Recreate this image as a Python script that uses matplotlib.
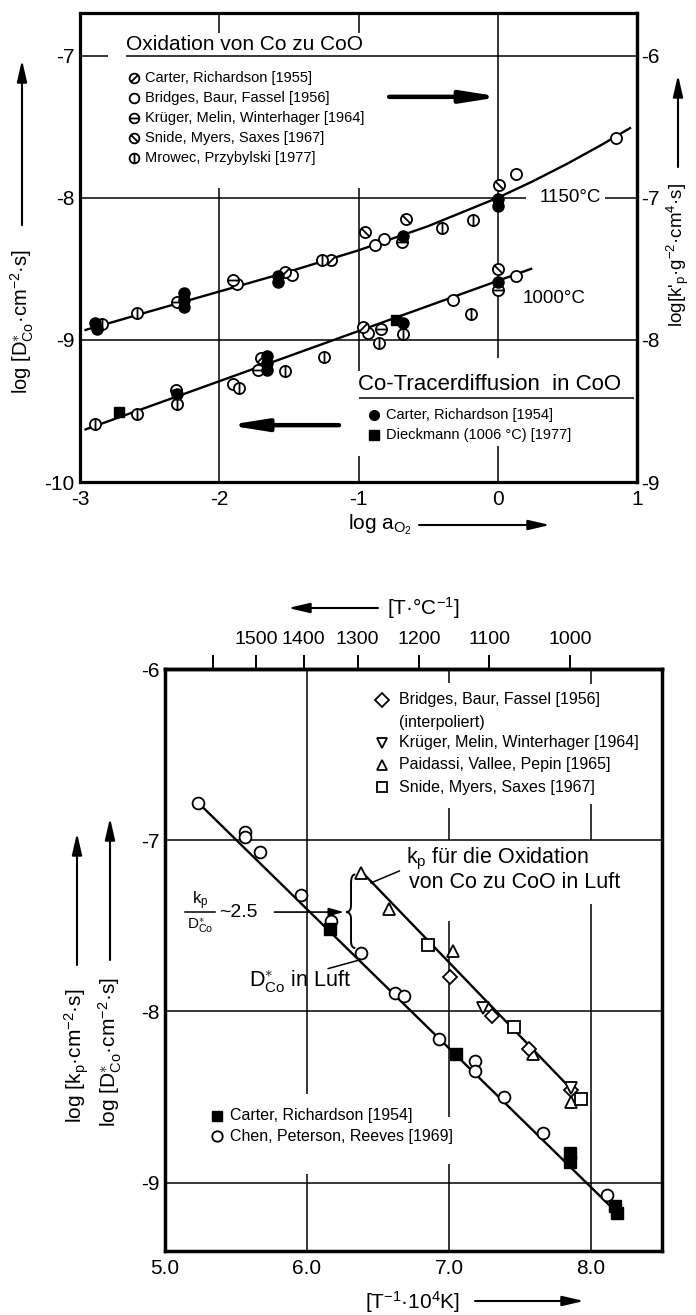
import numpy as np
import matplotlib
matplotlib.use('Agg')
import matplotlib.pyplot as plt
from matplotlib.path import Path
from matplotlib.patches import PathPatch, FancyArrowPatch

plt.rcParams['font.family'] = ['Liberation Sans', 'DejaVu Sans']
plt.rcParams['mathtext.fontset'] = 'custom'
plt.rcParams['mathtext.rm'] = 'Liberation Sans'
plt.rcParams['mathtext.it'] = 'Liberation Sans'
plt.rcParams['mathtext.bf'] = 'Liberation Sans'
plt.rcParams['axes.unicode_minus'] = False

# ---- upper plot: log D / log k'p vs log a_O2 (1150 C and 1000 C) ----
bridges_x = [0.85, 0.13, -0.82, -0.88, -1.48, -1.87, 0.13, -0.32, -0.93, -1.90]
bridges_y = [-7.58, -7.83, -8.29, -8.33, -8.54, -8.61, -8.55, -8.72, -8.95, -9.31]
carter55_x = [-1.53, -1.20, -0.97, -1.70]
carter55_y = [-8.52, -8.44, -8.91, -9.13]
snide_x = [0.01, -0.66, -0.95, 0.0]
snide_y = [-7.91, -8.15, -8.24, -8.50]
krueger_x = [-0.69, -2.30, -1.90, 0.0, -0.84, -1.72, -2.31]
krueger_y = [-8.31, -8.73, -8.58, -8.65, -8.92, -9.21, -9.35]
mrowec_x = [-0.18, -0.40, -1.26, -2.59, -2.84, -0.19, -0.68, -0.85, -1.25, -1.53, -1.86, -2.30, -2.59, -2.89]
mrowec_y = [-8.16, -8.21, -8.44, -8.81, -8.89, -8.82, -8.96, -9.02, -9.12, -9.22, -9.34, -9.45, -9.52, -9.59]
carter54_tr_x = [0.0, 0.0, -0.68, -1.58, -1.58, -2.25, -2.25, -2.25, -2.89, -2.88, 0.0, -0.68, -1.66, -1.66, -1.66, -2.30]
carter54_tr_y = [-8.01, -8.06, -8.27, -8.55, -8.59, -8.67, -8.72, -8.77, -8.88, -8.92, -8.59, -8.88, -9.11, -9.16, -9.21, -9.38]
dieckmann_x = [-0.73, -2.72]
dieckmann_y = [-8.86, -9.51]

fit1150_x = [-2.96, -2.5, -2.0, -1.5, -1.0, -0.5, 0.0, 0.25, 0.5, 0.75, 0.95]
fit1150_y = [-8.93, -8.80, -8.66, -8.52, -8.37, -8.20, -8.00, -7.885, -7.76, -7.625, -7.51]
fit1000_x = [-2.96, 0.24]
fit1000_y = [-9.63, -8.50]

# ---- lower plot: Arrhenius plot of kp and D* in air ----
chen_x = [5.235, 5.56, 5.56, 5.67, 5.96, 6.17, 6.38, 6.62, 6.68, 6.93, 7.18, 7.18, 7.39, 7.66, 8.11]
chen_y = [-6.78, -6.95, -6.98, -7.07, -7.32, -7.47, -7.66, -7.89, -7.91, -8.16, -8.29, -8.35, -8.50, -8.71, -9.07]
carter54_x = [6.16, 7.05, 7.85, 7.85, 8.17, 8.18]
carter54_y = [-7.52, -8.25, -8.83, -8.88, -9.14, -9.18]
paidassi_x = [6.38, 6.58, 7.03, 7.59, 7.86]
paidassi_y = [-7.19, -7.40, -7.65, -8.25, -8.53]
snide_kp_x = [6.85, 7.46, 7.93]
snide_kp_y = [-7.61, -8.09, -8.51]
bridges_kp_x = [7.01, 7.30, 7.56, 7.86]
bridges_kp_y = [-7.80, -8.03, -8.22, -8.46]
krueger_kp_x = [7.24, 7.86]
krueger_kp_y = [-7.98, -8.45]

fitD_x = [5.22, 8.20]
fitD_y = [-6.77, -9.19]
fitkp_x = [6.38, 7.96]
fitkp_y = [-7.18, -8.54]

temp_ticks = [1600, 1500, 1400, 1300, 1200, 1100, 1000]
temp_labels = ['', '1500', '1400', '1300', '1200', '1100', '1000']

W, H = 696, 1315
fig = plt.figure(figsize=(W / 100, H / 100), dpi=100)


def px_axes(l, t, r, b):
    return fig.add_axes([l / W, 1 - b / H, (r - l) / W, (b - t) / H])


def slashed(dx, dy):
    # open circle with a stroke through it
    circ = Path.unit_circle()
    bar = Path([(-dx, -dy), (dx, dy)], [Path.MOVETO, Path.LINETO])
    return Path.make_compound_path(circ, bar)


m_carter55 = slashed(0.75, 0.75)
m_snide = slashed(0.75, -0.75)
m_krueger = slashed(1.0, 0.0)
m_mrowec = slashed(0.0, 1.0)

open_kw = dict(ls='none', mfc='white', mec='black', mew=1.3, zorder=5)


def fig_arrow(x0, y0, x1, y1, lw=1.5, hl=1.3, hw=0.3):
    fig.add_artist(FancyArrowPatch(
        (x0 / W, 1 - y0 / H), (x1 / W, 1 - y1 / H), transform=fig.transFigure,
        arrowstyle='-|>,head_length=%g,head_width=%g' % (hl, hw),
        mutation_scale=10, lw=lw, color='black', shrinkA=0, shrinkB=0))


def seg(ax, xs, ys):
    ax.plot(xs, ys, color='black', lw=1.1, zorder=1, solid_capstyle='butt')


# ================= upper panel =================
ax1 = px_axes(80, 13, 637, 482)
ax1.set_xlim(-3, 1)
ax1.set_ylim(-10, -6.7)

seg(ax1, [-3, -2.8], [-7, -7])
seg(ax1, [-2.67, 1], [-7, -7])
seg(ax1, [-3, 0.2], [-8, -8])
seg(ax1, [0.77, 1], [-8, -8])
seg(ax1, [-3, 1], [-9, -9])
seg(ax1, [-2, -2], [-6.7, -6.84])
seg(ax1, [-2, -2], [-7.93, -10])
seg(ax1, [-1, -1], [-6.7, -6.84])
seg(ax1, [-1, -1], [-7.93, -9.22])
seg(ax1, [-1, -1], [-9.82, -10])
seg(ax1, [0, 0], [-6.7, -9.13])
seg(ax1, [0, 0], [-9.75, -10])

ax1.plot(fit1150_x, fit1150_y, color='black', lw=1.7, zorder=2)
ax1.plot(fit1000_x, fit1000_y, color='black', lw=1.7, zorder=2)

ax1.plot(bridges_x, bridges_y, marker='o', ms=8, **open_kw)
ax1.plot(carter55_x, carter55_y, marker=m_carter55, ms=8, **open_kw)
ax1.plot(snide_x, snide_y, marker=m_snide, ms=8, **open_kw)
ax1.plot(krueger_x, krueger_y, marker=m_krueger, ms=8, **open_kw)
ax1.plot(mrowec_x, mrowec_y, marker=m_mrowec, ms=8, **open_kw)
ax1.plot(carter54_tr_x, carter54_tr_y, 'o', ms=8, color='black', zorder=6)
ax1.plot(dieckmann_x, dieckmann_y, 's', ms=7.5, color='black', zorder=6)

ax1.text(-2.67, -6.985, 'Oxidation von Co zu CoO', fontsize=15, ha='left', va='bottom')
leg1 = [(m_carter55, 'Carter, Richardson [1955]'),
        ('o', 'Bridges, Baur, Fassel [1956]'),
        (m_krueger, 'Krüger, Melin, Winterhager [1964]'),
        (m_snide, 'Snide, Myers, Saxes [1967]'),
        (m_mrowec, 'Mrowec, Przybylski [1977]')]
for i, (mk, lab) in enumerate(leg1):
    yy = -7.16 - 0.14 * i
    ax1.plot([-2.61], [yy], marker=mk, ms=7, **open_kw)
    ax1.text(-2.53, yy, lab, fontsize=10.5, ha='left', va='center')

ax1.annotate('', xy=(0.02, -7.29), xytext=(-0.78, -7.29),
             arrowprops=dict(arrowstyle='-|>,head_length=2.2,head_width=0.35', lw=3.2,
                             color='black', shrinkA=0, shrinkB=0, mutation_scale=10))
ax1.annotate('', xy=(-1.94, -9.60), xytext=(-1.14, -9.60),
             arrowprops=dict(arrowstyle='-|>,head_length=2.2,head_width=0.35', lw=3.2,
                             color='black', shrinkA=0, shrinkB=0, mutation_scale=10))

ax1.text(0.30, -8.0, '1150°C', fontsize=13.5, ha='left', va='center')
ax1.text(0.18, -8.71, '1000°C', fontsize=13.5, ha='left', va='center')

ax1.text(-1.0, -9.385, 'Co-Tracerdiffusion  in CoO', fontsize=16, ha='left', va='bottom')
seg(ax1, [-1.0, 0.98], [-9.41, -9.41])
ax1.plot([-0.89], [-9.53], 'o', ms=7, color='black')
ax1.text(-0.80, -9.53, 'Carter, Richardson [1954]', fontsize=10.5, ha='left', va='center')
ax1.plot([-0.89], [-9.67], 's', ms=6.5, color='black')
ax1.text(-0.80, -9.67, 'Dieckmann (1006 °C) [1977]', fontsize=10.5, ha='left', va='center')

ax1.set_xticks([-3, -2, -1, 0, 1])
ax1.set_xticklabels(['-3', '-2', '-1', '0', '1'])
ax1.set_yticks([-7, -8, -9, -10])
ax1.tick_params(length=0, labelsize=15, pad=4)
ax1.tick_params(axis='x', pad=6)
for sp in ax1.spines.values():
    sp.set_linewidth(2.3)

sec1 = ax1.secondary_yaxis('right', functions=(lambda y: y + 1, lambda y: y - 1))
sec1.set_yticks([-6, -7, -8, -9])
sec1.tick_params(length=0, labelsize=15, pad=3)
sec1.spines['right'].set_linewidth(2.3)

fig.text(348 / W, 1 - 525 / H, 'log a$_{\\mathrm{O_2}}$', fontsize=15, ha='left', va='center')
fig_arrow(419, 525, 550, 525)

fig.text(22 / W, 1 - 322 / H, 'log [D$^{\\ast}_{\\mathrm{Co}}$·cm$^{-2}$·s]', fontsize=14.5,
         rotation=90, ha='center', va='center')
fig_arrow(22, 225, 22, 60)
fig.text(678 / W, 1 - 255 / H, "log[k$'_{\\mathrm{p}}$·g$^{-2}$·cm$^{4}$·s]", fontsize=13.5,
         rotation=90, ha='center', va='center')
fig_arrow(678, 167, 678, 75)

# ================= lower panel =================
ax2 = px_axes(165, 669, 662, 1251)
ax2.set_xlim(5.0, 8.5)
ax2.set_ylim(-9.4, -6.0)

seg(ax2, [5.0, 8.5], [-7, -7])
seg(ax2, [5.0, 8.5], [-8, -8])
seg(ax2, [5.0, 8.5], [-9, -9])
seg(ax2, [6, 6], [-6.0, -8.48])
seg(ax2, [6, 6], [-8.95, -9.4])
seg(ax2, [7, 7], [-6.0, -6.08])
seg(ax2, [7, 7], [-6.81, -7.0])
seg(ax2, [7, 7], [-7.47, -8.62])
seg(ax2, [7, 7], [-8.89, -9.4])
seg(ax2, [8, 8], [-6.0, -6.09])
seg(ax2, [8, 8], [-6.79, -7.0])
seg(ax2, [8, 8], [-7.37, -9.4])

ax2.plot(fitD_x, fitD_y, color='black', lw=1.7, zorder=2)
ax2.plot(fitkp_x, fitkp_y, color='black', lw=1.7, zorder=2)

ax2.plot(chen_x, chen_y, marker='o', ms=8.5, **open_kw)
ax2.plot(carter54_x, carter54_y, 's', ms=8, color='black', zorder=6)
ax2.plot(paidassi_x, paidassi_y, marker='^', ms=9, **open_kw)
ax2.plot(snide_kp_x, snide_kp_y, marker='s', ms=8.5, **open_kw)
ax2.plot(bridges_kp_x, bridges_kp_y, marker='D', ms=7.5, **open_kw)
ax2.plot(krueger_kp_x, krueger_kp_y, marker='v', ms=9, **open_kw)

leg2 = [('D', 'Bridges, Baur, Fassel [1956]', -6.18),
        (None, '(interpoliert)', -6.31),
        ('v', 'Krüger, Melin, Winterhager [1964]', -6.43),
        ('^', 'Paidassi, Vallee, Pepin [1965]', -6.56),
        ('s', 'Snide, Myers, Saxes [1967]', -6.69)]
for mk, lab, yy in leg2:
    if mk is not None:
        ax2.plot([6.53], [yy], marker=mk, ms=7.5, **open_kw)
    ax2.text(6.65, yy, lab, fontsize=11.5, ha='left', va='center')

ax2.plot([5.365], [-8.61], 's', ms=7, color='black')
ax2.text(5.46, -8.61, 'Carter, Richardson [1954]', fontsize=11.5, ha='left', va='center')
ax2.plot([5.365], [-8.73], marker='o', ms=7.5, **open_kw)
ax2.text(5.46, -8.73, 'Chen, Peterson, Reeves [1969]', fontsize=11.5, ha='left', va='center')

ax2.text(6.70, -7.11, 'k$_{\\mathrm{p}}$ für die Oxidation', fontsize=15.5, ha='left', va='center')
ax2.text(6.72, -7.25, 'von Co zu CoO in Luft', fontsize=15.5, ha='left', va='center')
ax2.plot([6.45, 6.65], [-7.25, -7.18], color='black', lw=1.1)

ax2.text(5.59, -7.83, 'D$^{\\ast}_{\\mathrm{Co}}$ in Luft', fontsize=15.5, ha='left', va='center')
ax2.plot([6.15, 6.37], [-7.75, -7.70], color='black', lw=1.1)

# curly bracket between the two lines
brace = Path([(6.34, -7.20), (6.31, -7.20), (6.31, -7.25), (6.31, -7.38),
              (6.31, -7.42), (6.275, -7.42), (6.31, -7.42), (6.31, -7.46),
              (6.31, -7.59), (6.31, -7.63), (6.34, -7.63)],
             [Path.MOVETO, Path.CURVE3, Path.CURVE3, Path.LINETO,
              Path.CURVE3, Path.CURVE3, Path.CURVE3, Path.CURVE3,
              Path.LINETO, Path.CURVE3, Path.CURVE3])
ax2.add_patch(PathPatch(brace, fill=False, lw=1.4, color='black'))

ax2.text(5.245, -7.355, 'k$_{\\mathrm{p}}$', fontsize=12, ha='center', va='center')
ax2.plot([5.14, 5.35], [-7.42, -7.42], color='black', lw=1.1)
ax2.text(5.245, -7.50, 'D$^{\\ast}_{\\mathrm{Co}}$', fontsize=11, ha='center', va='center')
ax2.text(5.38, -7.425, '~2.5', fontsize=14, ha='left', va='center')
ax2.annotate('', xy=(6.26, -7.42), xytext=(5.77, -7.42),
             arrowprops=dict(arrowstyle='-|>,head_length=0.9,head_width=0.25', lw=1.2,
                             color='black', shrinkA=0, shrinkB=0, mutation_scale=10))

ax2.set_xticks([5.0, 6.0, 7.0, 8.0])
ax2.set_xticklabels(['5.0', '6.0', '7.0', '8.0'])
ax2.set_yticks([-6, -7, -8, -9])
ax2.tick_params(length=0, labelsize=15, pad=4)
ax2.tick_params(axis='x', pad=6)
for sp in ax2.spines.values():
    sp.set_linewidth(2.5)

sec2 = ax2.secondary_xaxis('top', functions=(lambda x: 1e4 / np.maximum(x, 1e-6) - 273.15,
                                             lambda t: 1e4 / (np.asarray(t) + 273.15)))
sec2.set_xticks(temp_ticks)
sec2.set_xticklabels(temp_labels)
sec2.tick_params(direction='out', length=10, width=1.4, labelsize=14, pad=5)
sec2.spines['top'].set_linewidth(2.5)

fig.text(387 / W, 1 - 608 / H, '[T·°C$^{-1}$]', fontsize=15, ha='left', va='center')
fig_arrow(378, 608, 288, 608)
fig.text(365 / W, 1 - 1302 / H, '[T$^{-1}$·10$^{4}$K]', fontsize=15, ha='left', va='center')
fig_arrow(475, 1301, 584, 1301)

fig.text(77 / W, 1 - 1056 / H, 'log [k$_{\\mathrm{p}}$·cm$^{-2}$·s]', fontsize=15,
         rotation=90, ha='center', va='center')
fig_arrow(77, 965, 77, 833)
fig.text(110 / W, 1 - 1052 / H, 'log [D$^{\\ast}_{\\mathrm{Co}}$·cm$^{-2}$·s]', fontsize=15,
         rotation=90, ha='center', va='center')
fig_arrow(110, 960, 110, 818)

fig.savefig('out.png', dpi=100)
